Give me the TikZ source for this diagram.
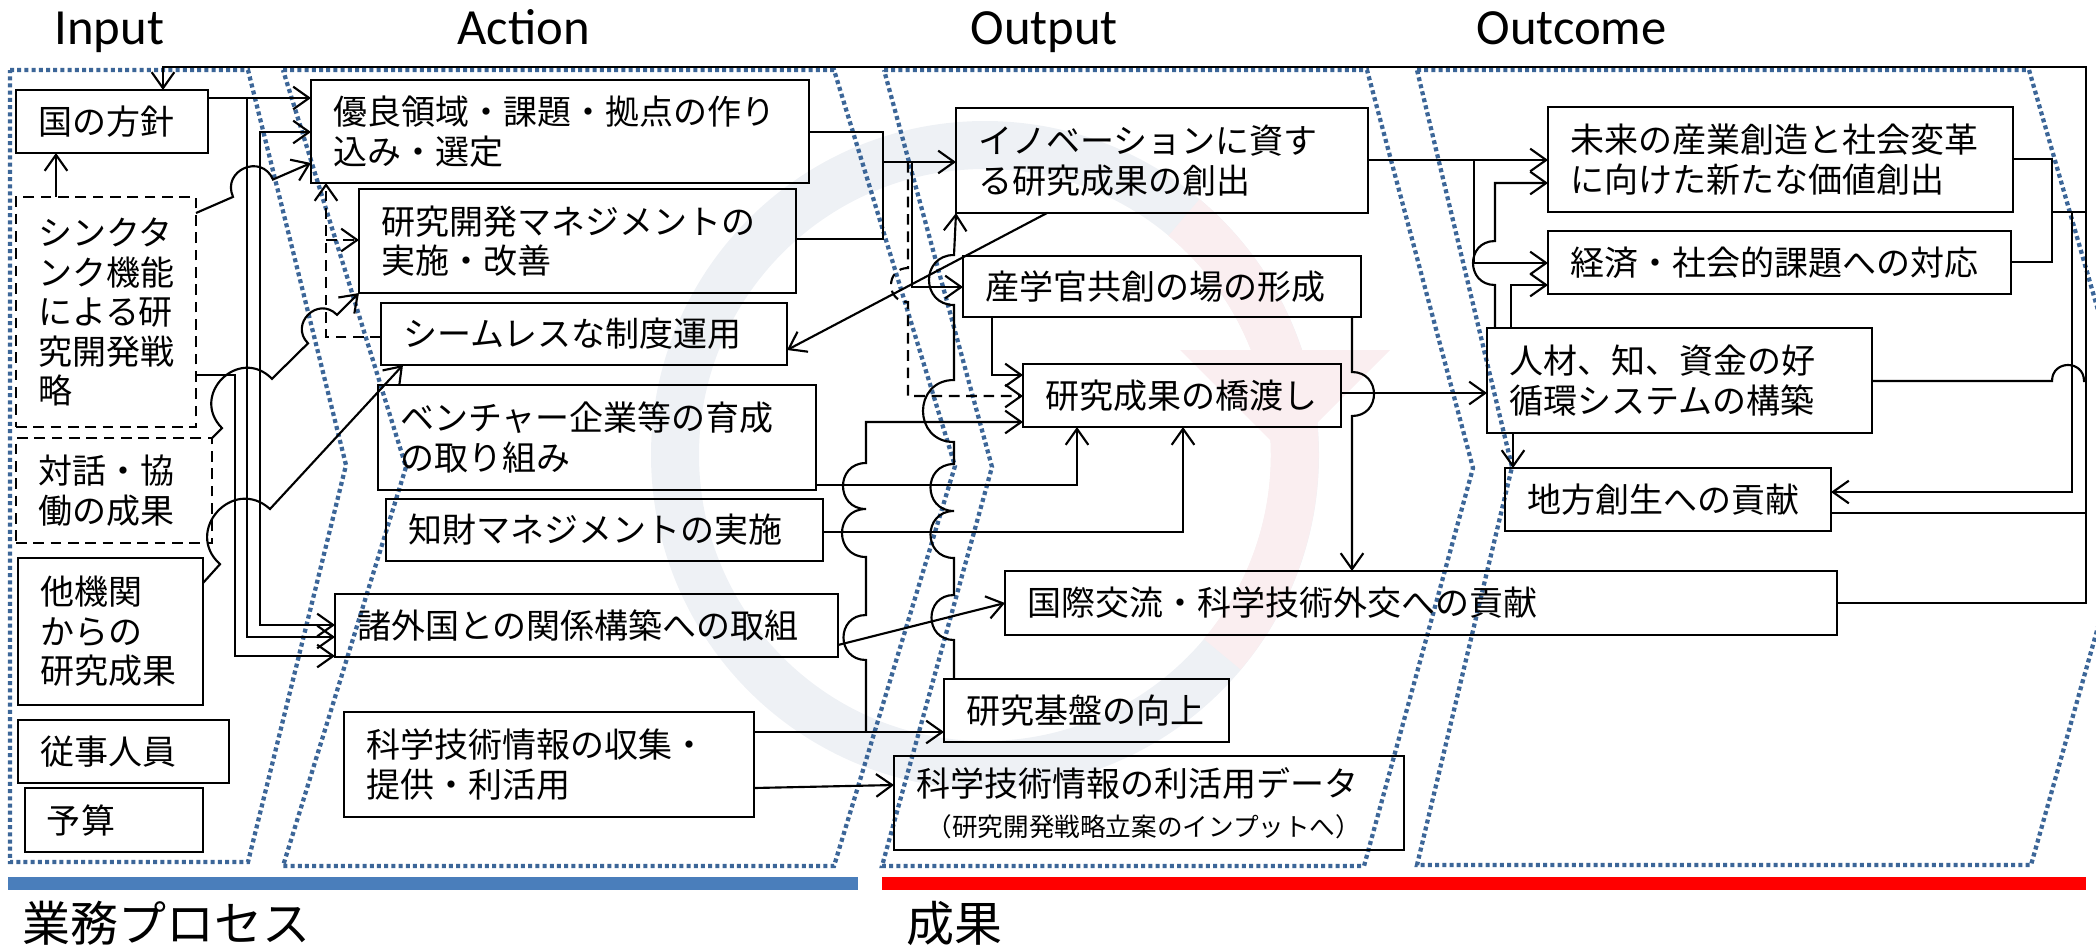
\documentclass[tikz,border=0pt]{standalone}
\usepackage{graphicx}
\usepackage{fontspec}
\setmainfont{Noto Sans CJK JP}
\newfontfamily\jpf{Noto Sans CJK JP}
\newfontfamily\hdrf{Carlito}
\usetikzlibrary{arrows.meta,calc}
\definecolor{dotblue}{HTML}{3C6698}
\definecolor{barblue}{HTML}{4A7EBB}
\definecolor{barred}{HTML}{FF0000}
\definecolor{wmgray}{HTML}{EEF1F5}
\definecolor{wmpink}{HTML}{FAEEF0}
\newcommand\jump[3]{.. controls ($(#1)!0.667!#3:(#2)$) and ($(#2)!0.667!-#3:(#1)$) .. (#2)}
\tikzset{
  box/.style={draw, line width=1pt, anchor=north west, inner xsep=8.25pt, inner ysep=0pt, outer sep=0pt, align=left, font=\jpf\fontsize{12.75}{14.8}\selectfont},
  dbox/.style={box, dash pattern=on 4pt off 2.5pt},
  sz/.style n args={3}{minimum width=#1*0.375pt, minimum height=#2*0.375pt, text width=#3pt},
  conn/.style={line width=0.8pt},
  dconn/.style={conn, dash pattern=on 4pt off 2.5pt},
  zone/.style={dotblue, line width=1.6pt, dash pattern=on 1.5pt off 1.2pt},
  hdr/.style={anchor=base west, inner sep=0pt, font=\hdrf\fontsize{19}{21}\selectfont},
  big/.style={anchor=base west, inner sep=0pt, font=\jpf\fontsize{18}{20}\selectfont}
}
\begin{document}
\begin{tikzpicture}[x=0.375pt,y=-0.375pt,>={Straight Barb[length=6pt,width=8.5pt]}]
\useasboundingbox (0,0) rectangle (2096,947);
\clip (0,0) rectangle (2096,947);

% faint watermark ring
\draw[wmgray, line width=18pt] (985,455) circle[radius=310];
\draw[wmpink, line width=18pt] (1184,217.5) arc[start angle=-50, end angle=40, radius=310];
\fill[wmpink] (1180,350) -- (1390,350) -- (1285,455) -- cycle;

% zones
\draw[zone] (10,70) -- (248,70) -- (346,465) -- (248,862) -- (10,862) -- cycle;
\draw[zone] (283,70) -- (834,70) -- (955,466) -- (834,866) -- (283,866) -- (406,467) -- cycle;
\draw[zone] (884,70) -- (1367,70) -- (1473,468) -- (1364,866) -- (882,866) -- (992,467) -- cycle;
\draw[zone] (1417,70) -- (2029,70) -- (2143,467) -- (2031,865) -- (1417,865) -- (1512,467) -- cycle;

% headers
\node[hdr] (hIn) at (54,44) {Input};
\node[hdr] (hAct) at (457,44) {Action};
\node[hdr] (hOut) at (970,44) {Output};
\node[hdr] (hOc) at (1476,44) {Outcome};

% bars and labels
\fill[barblue] (8,877) rectangle (858,890);
\fill[barred] (882,877) rectangle (2086,890);
\node[big] (gyomu) at (22,941) {業務プロセス};
\node[big] (seika) at (906,941) {成果};

% Input boxes
\node[box, sz={192}{63}{55.5}] (kuni) at (16,90) {国の方針};
\node[dbox, sz={180}{230}{51}] (think) at (16,197) {シンクタ\\ンク機能\\による研\\究開発戦\\略};
\node[dbox, sz={196}{105}{57}] (taiwa) at (16,438) {対話・協\\働の成果};
\node[box, sz={185}{147}{52.875}] (takikan) at (18,558) {他機関\\からの\\研究成果};
\node[box, sz={211}{63}{62.625}] (jyuji) at (18,720) {従事人員};
\node[box, sz={178}{64}{50.25}] (yosan) at (25,788) {予算};

% Action boxes
\node[box, sz={498}{103}{170.25}] (yuryo) at (311,80) {優良領域・課題・拠点の作り\\込み・選定};
\node[box, sz={437}{104}{147.375}] (mgmt) at (359,189) {研究開発マネジメントの\\実施・改善};
\node[box, sz={406}{62}{135.75}] (seamless) at (381,303) {シームレスな制度運用};
\node[box, sz={438}{105}{147.75}] (venture) at (378,385) {ベンチャー企業等の育成\\の取り組み};
\node[box, sz={437}{62}{147.375}] (chizai) at (386,499) {知財マネジメントの実施};
\node[box, sz={503}{63}{172.125}] (shogai) at (335,594) {諸外国との関係構築への取組};
\node[box, sz={410}{105}{137.25}] (shushu) at (344,712) {科学技術情報の収集・\\提供・利活用};

% Output boxes
\node[box, sz={412}{105}{138}] (inov) at (956,108) {イノベーションに資す\\る研究成果の創出};
\node[box, sz={398}{61}{132.75}] (sangaku) at (963,256) {産学官共創の場の形成};
\node[box, sz={318}{63}{102.75}] (hashi) at (1023,364) {研究成果の橋渡し};
\node[box, sz={832}{64}{295.5}] (kokusai) at (1005,571) {国際交流・科学技術外交への貢献};
\node[box, sz={285}{63}{90.375}] (kiban) at (944,679) {研究基盤の向上};
\node[box, sz={510}{94}{174.75}] (rikatsu) at (894,756) {科学技術情報の利活用データ\\{\fontsize{9.6}{14}\selectfont\hspace*{4pt}（研究開発戦略立案のインプットへ）}};

% Outcome boxes
\node[box, sz={465}{105}{157.875}] (mirai) at (1548,107) {未来の産業創造と社会変革\\に向けた新たな価値創出};
\node[box, sz={463}{63}{157.125}] (keizai) at (1548,231) {経済・社会的課題への対応};
\node[box, sz={385}{105}{127.875}] (jinzai) at (1487,328) {人材、知、資金の好\\循環システムの構築};
\node[box, sz={326}{63}{105.75}] (chiho) at (1505,468) {地方創生への貢献};

% ---- Input -> Action
\draw[conn,->] (think.north -| 56,0) -- (kuni.south -| 56,0);
\draw[conn,->] (kuni.east |- 0,98) -- (yuryo.west |- 0,98);
\draw[conn,->] (247,98) -- (247,637) -- (shogai.west |- 0,637);
\draw[conn,<->] (yuryo.west |- 0,132) -- (260,132) -- (260,625) -- (shogai.west |- 0,625);
\draw[conn,->] (think.east |- 0,213) -- (233,196.9) \jump{233,196.9}{273,179.5}{90} -- (yuryo.west |- 0,163);
\draw[conn,->] (think.east |- 0,375) -- (235,375) -- (235,656) -- (shogai.west |- 0,656);
\draw[conn,->] (taiwa.north east) -- (222,428.1) \jump{222,428.1}{272,378.8}{90} -- (308,343.3) \jump{308,343.3}{337,314.8}{90} -- (mgmt.south west);
\draw[conn,->] (takikan.east |- 0,583) -- (220,564.2) \jump{220,564.2}{270,509}{90} -- (seamless.south -| 403,0);
\draw[dconn,->] (seamless.west |- 0,337) -- (326,337) -- (yuryo.south -| 326,0);
\draw[dconn,->] (326,240) -- (mgmt.west |- 0,240);

% ---- Action -> Output
\draw[conn] (yuryo.east |- 0,132) -- (883,132) -- (883,239) -- (mgmt.east |- 0,239);
\draw[conn,->] (883,162) -- (inov.west |- 0,162);
\draw[conn,->] (912,162) -- (912,287) -- (sangaku.west |- 0,287);
\draw[dconn,->] (908,162) -- (908,268) \jump{908,268}{908,302}{-90} -- (908,396) -- (hashi.west |- 0,396);
\draw[conn,->] (inov.south -| 1047,0) -- (seamless.east |- 0,350);
\draw[conn,->] (kiban.north -| 954,0) -- (954,640) \jump{954,640}{954,595}{90} -- (954,558) \jump{954,558}{954,511}{90} \jump{954,511}{954,464}{90} -- (954,442) \jump{954,442}{954,380}{90} -- (954,305) \jump{954,305}{954,255}{90} -- (inov.south west);
\draw[conn,->] (shushu.east |- 0,732) -- (kiban.west |- 0,732);
\draw[conn,->] (866,732) -- (866,660) \jump{866,660}{866,615}{90} -- (866,557) \jump{866,557}{866,509}{90} \jump{866,509}{866,463}{90} -- (866,422) -- (hashi.west |- 0,422);
\draw[conn,->] (venture.east |- 0,485) -- (1077,485) -- (hashi.south -| 1077,0);
\draw[conn,->] (chizai.east |- 0,532) -- (1183,532) -- (hashi.south -| 1183,0);
\draw[conn,->] (shogai.east |- 0,645) -- (kokusai.west |- 0,603);
\draw[conn,->] (shushu.east |- 0,788) -- (rikatsu.west |- 0,785);
\draw[conn,->] (sangaku.south -| 992,0) -- (992,375) -- (hashi.west |- 0,375);

% ---- Output -> Outcome
\draw[conn,->] (sangaku.south -| 1352,0) -- (1352,372) \jump{1352,372}{1352,416}{90} -- (kokusai.north -| 1352,0);
\draw[conn,->] (hashi.east |- 0,393) -- (jinzai.west |- 0,393);
\draw[conn,->] (inov.east |- 0,160) -- (mirai.west |- 0,160);
\draw[conn,->] (1474,160) -- (1474,263) -- (keizai.west |- 0,263);
\draw[conn,->] (jinzai.north -| 1495,0) -- (1495,285) \jump{1495,285}{1495,241}{90} -- (1495,183) -- (mirai.west |- 0,183);
\draw[conn,->] (jinzai.north -| 1511,0) -- (1511,285) -- (keizai.west |- 0,285);
\draw[conn,->] (jinzai.south -| 1513,0) -- (chiho.north -| 1513,0);

% ---- feedback on the right
\draw[conn] (mirai.east |- 0,159) -- (2052,159) -- (2052,262) -- (keizai.east |- 0,262);
\draw[conn] (2052,212) -- (2086,212);
\draw[conn,->] (2072,212) -- (2072,492) -- (chiho.east |- 0,492);
\draw[conn] (jinzai.east |- 0,381) -- (2052,381) \jump{2052,381}{2084,381}{90} -- (2086,381);
\draw[conn] (chiho.east |- 0,513) -- (2086,513);
\draw[conn,->] (kokusai.east |- 0,603) -- (2086,603) -- (2086,67) -- (163,67) -- (kuni.north -| 163,0);
\end{tikzpicture}
\end{document}
